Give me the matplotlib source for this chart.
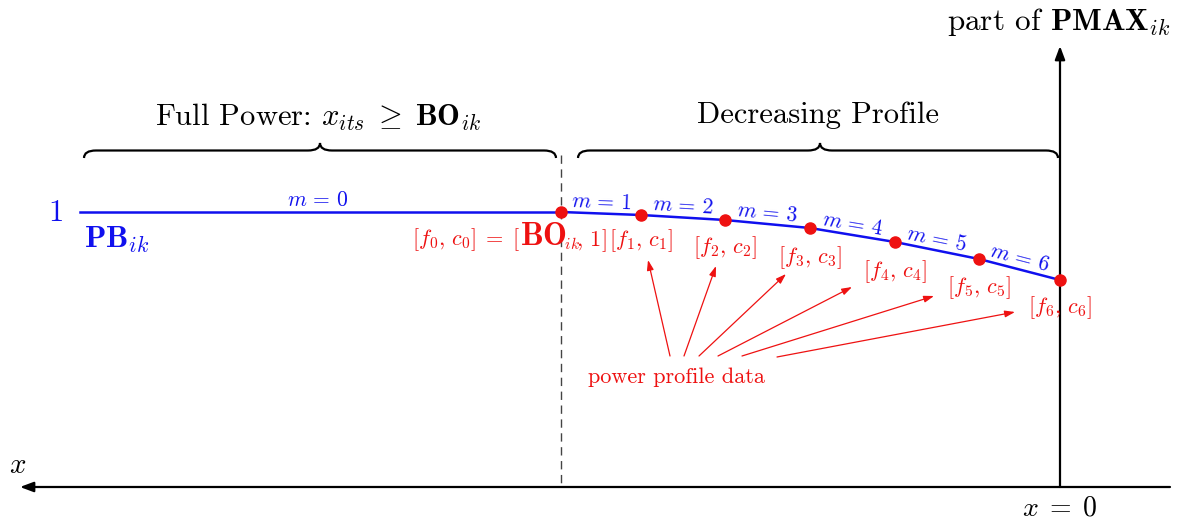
import numpy as np
import matplotlib.pyplot as plt
from matplotlib.path import Path
from matplotlib.patches import PathPatch

plt.rcParams['mathtext.fontset'] = 'cm'
plt.rcParams['font.family'] = 'cmr10'
plt.rcParams['axes.unicode_minus'] = False

# positions, in pixel units of the 1182x521 canvas
line_start = 80
bo_x = 561
profile_x = [561, 641, 725, 810, 895, 979, 1060]
profile_y = [212, 215, 220, 228, 242, 259, 280]
segment_labels = [r'$m\,=\,%d$' % m for m in range(1, 7)]
point_labels = [r'$[f_%d,\,c_%d]$' % (i, i) for i in range(1, 7)]
label_offsets = [26, 28, 30, 30, 29, 28]

# arrows from "power profile data" to the labels
arrow_tails = [(670, 356), (684, 356), (699, 356), (718, 356), (742, 356), (777, 357)]
arrow_heads = [(648, 260), (716, 266), (786, 274), (852, 287), (934, 296), (1015, 312)]

# braces: (left, right, tip x, bottom y)
braces = [(84, 556, 320, 158), (578, 1058, 820, 158)]
brace_titles = [r'Full Power: $x_{its}\;\geq\;\mathbf{BO}_{ik}$', 'Decreasing Profile']
title_pos = [(318, 117), (818, 115)]

blue = '#1010ee'
red = '#ee1111'

fig = plt.figure(figsize=(11.82, 5.21), dpi=100)
ax = fig.add_axes([0, 0, 1, 1])
ax.set_xlim(0, 1182)
ax.set_ylim(521, 0)
ax.axis('off')

# axes
ax.annotate('', xy=(20, 487), xytext=(1170, 487),
            arrowprops=dict(arrowstyle='-|>,head_length=0.8,head_width=0.3', color='black', lw=1.6,
                            shrinkA=0, shrinkB=0))
ax.annotate('', xy=(1060, 46), xytext=(1060, 487),
            arrowprops=dict(arrowstyle='-|>,head_length=0.8,head_width=0.3', color='black', lw=1.6,
                            shrinkA=0, shrinkB=0))
ax.text(18, 466, r'$x$', fontsize=21, ha='center', va='center')
ax.text(1060, 508, r'$x\;=\;0$', fontsize=20, ha='center', va='center')
ax.text(1059, 22, r'part of $\mathbf{PMAX}_{ik}$', fontsize=22.5, ha='center', va='center')

# dashed line at BO
ax.plot([bo_x, bo_x], [155, 487], color='#444444', lw=1, ls=(0, (6, 4)))

# braces
for (x0, x1, xm, yb), title, (tx, ty) in zip(braces, brace_titles, title_pos):
    h = 15
    r = 12
    ym = yb - h / 2
    yt = yb - h
    verts = [(x0, yb), (x0, ym), (x0 + r, ym),
             (xm - r, ym), (xm, ym), (xm, yt),
             (xm, ym), (xm + r, ym),
             (x1 - r, ym), (x1, ym), (x1, yb)]
    codes = [Path.MOVETO, Path.CURVE3, Path.CURVE3,
             Path.LINETO, Path.CURVE3, Path.CURVE3,
             Path.CURVE3, Path.CURVE3,
             Path.LINETO, Path.CURVE3, Path.CURVE3]
    ax.add_patch(PathPatch(Path(verts, codes), fill=False, lw=1.6, color='black'))
    ax.text(tx, ty, title, fontsize=22, ha='center', va='center')

# full power segment
ax.plot([line_start, bo_x], [profile_y[0], profile_y[0]], color=blue, lw=1.8)
ax.text(318, 200, r'$m\,=\,0$', fontsize=15.5, color=blue, ha='center', va='center')
ax.text(55, 213, r'$1$', fontsize=22, color=blue, ha='center', va='center')
ax.text(84, 240, r'$\mathbf{PB}_{ik}$', fontsize=22.5, color=blue, ha='left', va='center')

# decreasing profile
ax.plot(profile_x, profile_y, color=blue, lw=1.8)
for i, lab in enumerate(segment_labels):
    x1, x2 = profile_x[i], profile_x[i + 1]
    y1, y2 = profile_y[i], profile_y[i + 1]
    ang = np.degrees(np.arctan2(-(y2 - y1), x2 - x1))
    ax.text((x1 + x2) / 2, (y1 + y2) / 2 - 11, lab, fontsize=15.5, color=blue,
            ha='center', va='center', rotation=ang, rotation_mode='anchor')
ax.plot(profile_x, profile_y, 'o', color=red, ms=8, zorder=5)

# point labels
ax.text(bo_x - 41, 240, r'$[f_0,\,c_0]\;=\;[$', fontsize=16, color=red, ha='right', va='center')
ax.text(bo_x - 41, 237, r'$\mathbf{BO}$', fontsize=23, color=red, ha='left', va='center')
ax.text(bo_x + 3, 241, r'$_{ik}\!,\,1]$', fontsize=16, color=red, ha='left', va='center')
for x, y, lab, off in zip(profile_x[1:], profile_y[1:], point_labels, label_offsets):
    ax.text(x, y + off, lab, fontsize=16, color=red, ha='center', va='center')

# power profile data
ax.text(676, 377, 'power profile data', fontsize=16, color=red, ha='center', va='center')
for tail, head in zip(arrow_tails, arrow_heads):
    ax.annotate('', xy=head, xytext=tail,
                arrowprops=dict(arrowstyle='-|>,head_length=0.6,head_width=0.2', color=red, lw=0.9,
                                shrinkA=0, shrinkB=0))

fig.savefig('out.png', dpi=100)
